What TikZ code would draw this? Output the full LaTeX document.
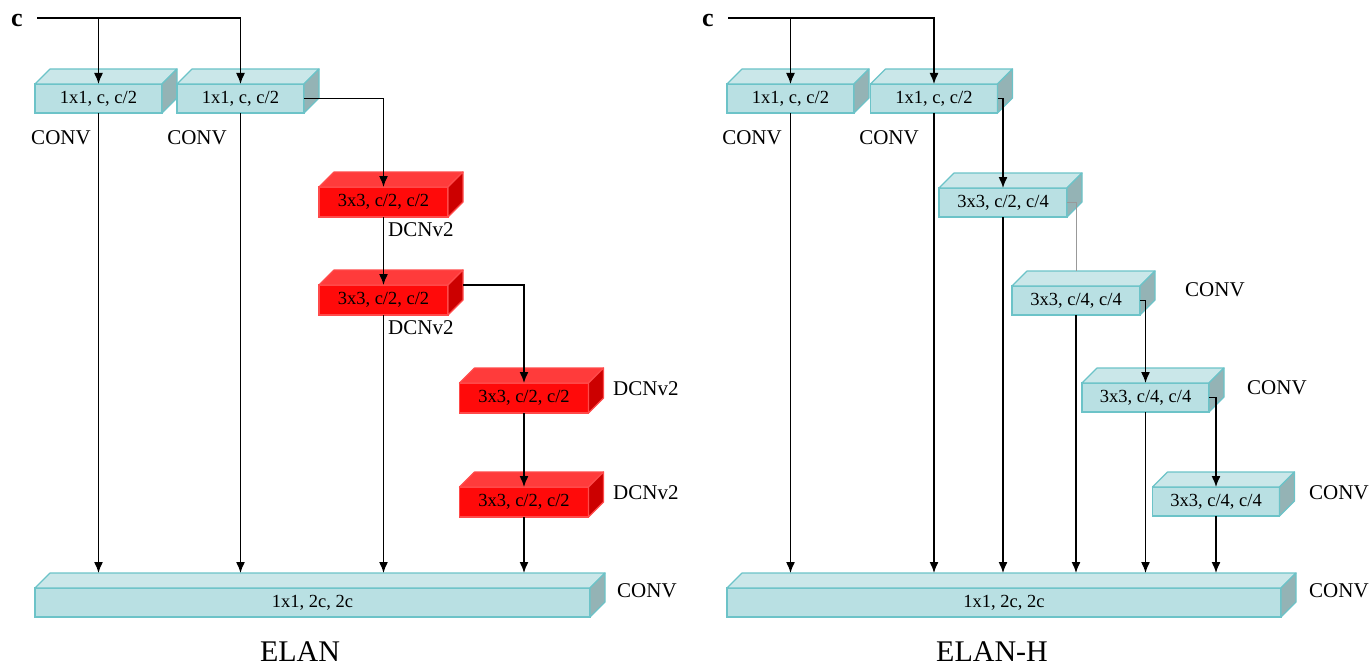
\documentclass[tikz,border=0pt]{standalone}
\usepackage{fontspec}
\setmainfont{Liberation Serif}
\usetikzlibrary{arrows.meta,calc}
\definecolor{cyfront}{HTML}{B9E0E3}
\definecolor{cytop}{HTML}{CAE7E9}
\definecolor{cyside}{HTML}{94B3B5}
\definecolor{cyedge}{HTML}{6CC3C8}
\definecolor{rdfront}{HTML}{FF0A0A}
\definecolor{rdtop}{HTML}{FF3B3B}
\definecolor{rdside}{HTML}{CC0000}
\definecolor{rdedge}{HTML}{FF4A4A}
\tikzset{
  cyfrontst/.style={draw=cyedge,fill=cyfront,line width=1.2pt,inner sep=0pt,outer sep=0pt,minimum height=29pt,font=\fontsize{18.5}{18.5}\selectfont},
  cytopst/.style={draw=cyedge,fill=cytop,line width=1.2pt,line join=round},
  cysidest/.style={draw=cyedge,fill=cyside,line width=1.2pt,line join=round},
  rdfrontst/.style={draw=rdedge,fill=rdfront,line width=1.2pt,inner sep=0pt,outer sep=0pt,minimum height=30pt,font=\fontsize{18.5}{18.5}\selectfont},
  rdtopst/.style={draw=rdedge,fill=rdtop,line width=1.2pt,line join=round},
  rdsidest/.style={draw=rdedge,fill=rdside,line width=1.2pt,line join=round},
  arr/.style={line width=1.4pt,-{Latex[length=11pt,width=9pt]}},
  thinln/.style={line width=0.6pt,draw=black!40},
  lab/.style={font=\fontsize{21}{21}\selectfont,inner sep=0pt},
  title/.style={font=\fontsize{30}{30}\selectfont,inner sep=0pt},
  cee/.style={font=\fontsize{26}{26}\selectfont\bfseries,inner sep=0pt}
}
\newcommand\mkbox[5]{%
  \node[#4frontst,minimum width=#3] (#1) at (#2) {#5};
  \filldraw[#4topst] (#1.north west) -- ++(15,-15) -- ([shift={(15pt,15pt)}]#1.north east) -- (#1.north east) -- cycle;
  \filldraw[#4sidest] (#1.north east) -- ([shift={(15pt,15pt)}]#1.north east) -- ([shift={(15pt,15pt)}]#1.south east) -- (#1.south east) -- cycle;
}
\begin{document}
\begin{tikzpicture}[x=1pt,y=-1pt]
\useasboundingbox (0,0) rectangle (1370,666);
% ---------------- ELAN ----------------
\mkbox{a1}{98.5,98.5}{127}{cy}{1x1, c, c/2}
\mkbox{a2}{240.5,98.5}{127}{cy}{1x1, c, c/2}
\mkbox{r1}{383.5,202}{129}{rd}{3x3, c/2, c/2}
\mkbox{r2}{383.5,300}{129}{rd}{3x3, c/2, c/2}
\mkbox{r3}{524,398}{129}{rd}{3x3, c/2, c/2}
\mkbox{r4}{524,502}{129}{rd}{3x3, c/2, c/2}
\mkbox{B}{312.5,602.5}{555}{cy}{1x1, 2c, 2c}
\coordinate (Bt) at ([yshift=15pt]B.north);
\node[cee] (c1) at (17,20) {c};
\coordinate (cL) at (37,18);
\draw[arr] (cL) -| (a2.north);
\draw[arr] (cL -| a1.north) -- (a1.north);
\node[lab] (l1) at (61,138) {CONV};
\node[lab] (l2) at (197,138) {CONV};
\node[lab,anchor=west] (l3) at (388,230) {DCNv2};
\node[lab,anchor=west] (l4) at (388,328) {DCNv2};
\node[lab,anchor=west] (l5) at (613,389) {DCNv2};
\node[lab,anchor=west] (l6) at (613,493) {DCNv2};
\node[lab,anchor=west] (l7) at (617,591) {CONV};
\node[title] (t1) at (300,652) {ELAN};
\draw[arr] (a2.east) -| (r1.north);
\draw[arr] (r1.south) -- (r2.north);
\draw[arr] ([xshift=15pt]r2.north east) -| (r3.north);
\draw[arr] (r3.south) -- (r4.north);
\draw[arr] (a1.south) -- (a1.south |- Bt);
\draw[arr] (a2.south) -- (a2.south |- Bt);
\draw[arr] (r2.south) -- (r2.south |- Bt);
\draw[arr] (r4.south) -- (r4.south |- Bt);
% ---------------- ELAN-H ----------------
\mkbox{h1}{790.5,98.5}{127}{cy}{1x1, c, c/2}
\mkbox{h2}{934,98.5}{127}{cy}{1x1, c, c/2}
\mkbox{h3}{1003,202.5}{128}{cy}{3x3, c/2, c/4}
\mkbox{h4}{1076,300.5}{128}{cy}{3x3, c/4, c/4}
\mkbox{h5}{1145.5,397.5}{127}{cy}{3x3, c/4, c/4}
\mkbox{h6}{1216,501.5}{127}{cy}{3x3, c/4, c/4}
\mkbox{HB}{1004,602.5}{554}{cy}{1x1, 2c, 2c}
\coordinate (HBt) at ([yshift=15pt]HB.north);
\node[cee] (c2) at (708,20) {c};
\coordinate (cR) at (728,18);
\draw[arr] (cR) -| (h2.north);
\draw[arr] (cR -| h1.north) -- (h1.north);
\node[lab] (m1) at (752,138) {CONV};
\node[lab] (m2) at (889,138) {CONV};
\node[lab,anchor=west] (m3) at (1185,290) {CONV};
\node[lab,anchor=west] (m4) at (1247,388) {CONV};
\node[lab,anchor=west] (m5) at (1309,493) {CONV};
\node[lab,anchor=west] (m6) at (1309,591) {CONV};
\node[title] (t2) at (992,652) {ELAN-H};
\draw[arr] (h2.east) -| (h3.north);
\draw[thinln] (h3.east) -| ([yshift=15pt]h4.north);
\draw[arr] (h4.east) -| (h5.north);
\draw[arr] (h5.east) -| (h6.north);
\draw[arr] (h1.south) -- (h1.south |- HBt);
\draw[arr] (h2.south) -- (h2.south |- HBt);
\draw[arr] (h3.south) -- (h3.south |- HBt);
\draw[arr] (h4.south) -- (h4.south |- HBt);
\draw[arr] (h5.south) -- (h5.south |- HBt);
\draw[arr] (h6.south) -- (h6.south |- HBt);
\end{tikzpicture}
\end{document}
